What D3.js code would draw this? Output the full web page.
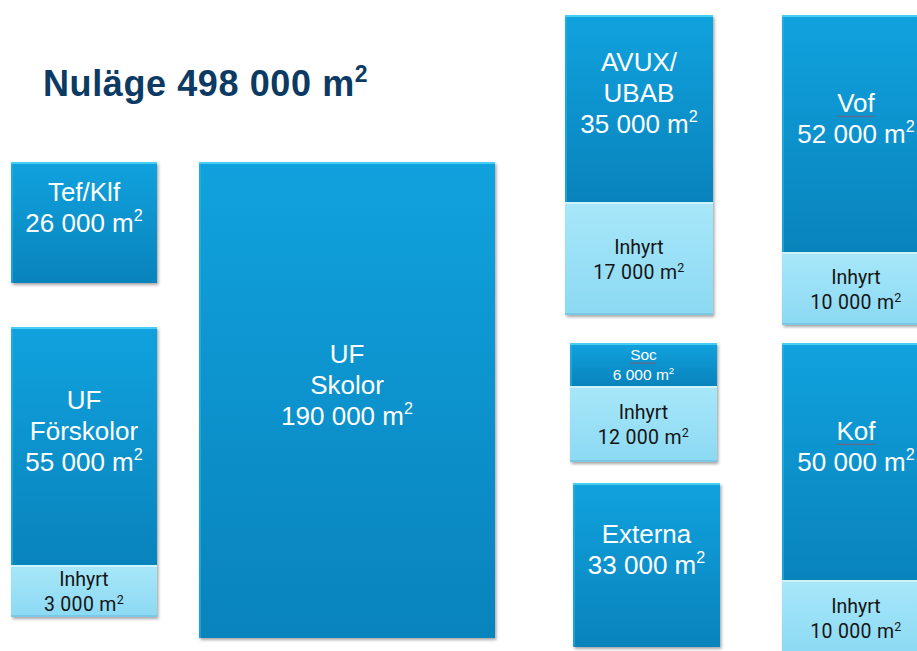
<!DOCTYPE html>
<html>
<head>
<meta charset="utf-8">
<script src="https://cdn.jsdelivr.net/npm/d3@7"></script>
<style>
  html, body { margin: 0; padding: 0; background: #ffffff; overflow: hidden; }
  svg { display: block; }
</style>
</head>
<body>
<svg id="chart" width="917" height="651"></svg>
<script>
// Floor area per organisational unit (m²): owned premises and leased-in ("Inhyrt") premises.
const titleText = "Nuläge";
const totalArea = [498000];
const unitLabels = [["Tef/Klf"], ["UF", "Förskolor"], ["UF", "Skolor"], ["AVUX/", "UBAB"], ["Soc"], ["Externa"], ["Vof"], ["Kof"]];
const ownedArea = [26000, 55000, 190000, 35000, 6000, 33000, 52000, 50000];
const leasedArea = [0, 3000, 0, 17000, 12000, 0, 10000, 10000];
const leasedLabel = "Inhyrt";
const flaggedWords = ["Soc", "Vof", "Kof"];

// Slide layout of each block: left, top, width, owned-part height, leased-part height.
const layout = [
  { x: 11,  y: 162, w: 146, ho: 121, hl: 0 },
  { x: 11,  y: 327, w: 146, ho: 238, hl: 52 },
  { x: 199, y: 162, w: 296, ho: 476, hl: 0 },
  { x: 565, y: 15,  w: 148, ho: 187, hl: 113 },
  { x: 570, y: 343, w: 147, ho: 43,  hl: 76, small: true },
  { x: 573, y: 483, w: 147, ho: 164, hl: 0 },
  { x: 782, y: 15,  w: 148, ho: 237, hl: 73 },
  { x: 782, y: 343, w: 148, ho: 237, hl: 76 }
];

const fmt = d3.formatLocale({ decimal: ",", thousands: " ", grouping: [3], currency: ["", " kr"] }).format(",d");

const svg = d3.select("#chart");
const defs = svg.append("defs");

const gDark = defs.append("linearGradient").attr("id", "gDark").attr("x1", 0).attr("y1", 0).attr("x2", 0).attr("y2", 1);
gDark.append("stop").attr("offset", 0).attr("stop-color", "#10a2de");
gDark.append("stop").attr("offset", 1).attr("stop-color", "#0983bc");

const gLight = defs.append("linearGradient").attr("id", "gLight").attr("x1", 0).attr("y1", 0).attr("x2", 0).attr("y2", 1);
gLight.append("stop").attr("offset", 0).attr("stop-color", "#a8e7f9");
gLight.append("stop").attr("offset", 1).attr("stop-color", "#8bd9f3");

const shadow = defs.append("filter").attr("id", "shadow").attr("x", "-10%").attr("y", "-10%").attr("width", "130%").attr("height", "130%");
shadow.append("feDropShadow").attr("dx", 1.5).attr("dy", 2).attr("stdDeviation", 1.6)
  .attr("flood-color", "#000").attr("flood-opacity", 0.35);

// Title
const title = svg.append("text")
  .attr("x", 43).attr("y", 96)
  .attr("font-family", "Liberation Sans, Arial, sans-serif")
  .attr("font-weight", "bold").attr("font-size", 36)
  .attr("letter-spacing", 0.6)
  .attr("fill", "#0c3a62");
title.append("tspan").text(`${titleText} ${fmt(totalArea[0])} m`);
title.append("tspan").attr("font-size", 23).attr("dy", -14).text("2");

const blocks = svg.selectAll("g.block")
  .data(unitLabels.map((lab, i) => ({ lab, owned: ownedArea[i], leased: leasedArea[i], L: layout[i] })))
  .join("g").attr("class", "block");

blocks.each(function (d) {
  const g = d3.select(this);
  const L = d.L;
  const totalH = L.ho + L.hl;

  // block outline with shadow
  g.append("rect").attr("x", L.x).attr("y", L.y).attr("width", L.w).attr("height", totalH)
    .attr("fill", "#0a84bd").attr("filter", "url(#shadow)");

  // owned part
  g.append("rect").attr("x", L.x).attr("y", L.y).attr("width", L.w).attr("height", L.ho)
    .attr("fill", "url(#gDark)");
  g.append("rect").attr("x", L.x).attr("y", L.y).attr("width", L.w).attr("height", 2)
    .attr("fill", "#45cdf4");
  g.append("rect").attr("x", L.x).attr("y", L.y + 2).attr("width", 2).attr("height", L.ho - 2)
    .attr("fill", "#2bb2e6").attr("opacity", 0.6);

  // leased part
  if (d.leased > 0) {
    const ly = L.y + L.ho;
    g.append("rect").attr("x", L.x).attr("y", ly).attr("width", L.w).attr("height", L.hl)
      .attr("fill", "url(#gLight)");
    g.append("rect").attr("x", L.x).attr("y", ly).attr("width", L.w).attr("height", 2)
      .attr("fill", "#cdf4fd");
    g.append("rect").attr("x", L.x).attr("y", ly + L.hl - 2).attr("width", L.w).attr("height", 2)
      .attr("fill", "#7ac8e4");

    const cy = ly + L.hl / 2;
    const lt = g.append("text").attr("text-anchor", "middle")
      .attr("font-family", "Roboto, 'Liberation Sans Narrow', sans-serif")
      .attr("font-size", 19.5).attr("fill", "#141414");
    lt.append("tspan").attr("x", L.x + L.w / 2).attr("y", cy - 5).text(leasedLabel);
    const l2 = lt.append("tspan").attr("x", L.x + L.w / 2).attr("y", cy + 20).attr("letter-spacing", 0.3);
    l2.append("tspan").text(`${fmt(d.leased)} m`);
    l2.append("tspan").attr("font-size", 12.5).attr("dy", -7).text("2");
  }

  // owned label
  const lines = d.lab.concat([`${fmt(d.owned)} m`]);
  const fs = L.small ? 15.5 : 26;
  const lh = L.small ? 20 : 31;
  const cx = L.x + L.w / 2;
  const cy = L.y + L.ho / 2;
  const n = L.small ? lines.length : lines.length + 1; // trailing empty paragraph on the large labels
  const firstCenter = cy - (n - 1) * lh / 2;
  const t = g.append("text").attr("text-anchor", "middle")
    .attr("font-family", "Liberation Sans, Arial, sans-serif")
    .attr("font-size", fs).attr("fill", "#ffffff");
  lines.forEach((s, k) => {
    const ts = t.append("tspan").attr("x", cx).attr("y", firstCenter + k * lh + fs * 0.36);
    ts.append("tspan").text(s);
    if (k === lines.length - 1) {
      ts.append("tspan").attr("font-size", fs * 0.62).attr("dy", -fs * 0.42).text("2");
    }
  });

  // spell-check squiggle under unit names that the editor flags
  if (flaggedWords.includes(d.lab[0])) {
    const first = t.select("tspan").node();
    const bb = first.getBBox();
    const y0 = firstCenter + fs * 0.36 + (L.small ? 2.5 : 4);
    const pts = [];
    for (let x = bb.x, k = 0; x <= bb.x + bb.width; x += 1.5, k++) pts.push([x, y0 + (k % 2 ? 1 : 0)]);
    g.append("path").attr("d", d3.line()(pts)).attr("fill", "none")
      .attr("stroke", "#d0323c").attr("stroke-width", 0.8).attr("opacity", 0.8);
  }
});
</script>
</body>
</html>
